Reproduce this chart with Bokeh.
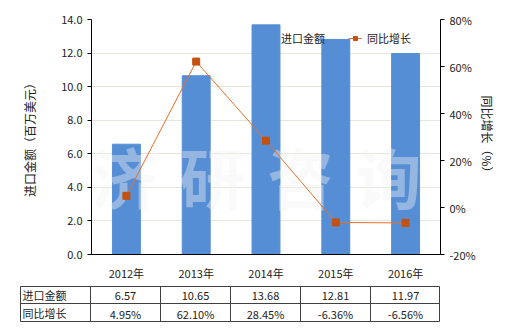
from bokeh.plotting import figure
from bokeh.models import (Range1d, LinearAxis, NumeralTickFormatter, PrintfTickFormatter,
                          FixedTicker, Legend, LegendItem, Label, ColumnDataSource)
from bokeh.core.properties import value
from bokeh.embed import file_html
from bokeh.resources import INLINE

years = ["2012年", "2013年", "2014年", "2015年", "2016年"]
imports = [6.57, 10.65, 13.68, 12.81, 11.97]
growth = [4.95, 62.10, 28.45, -6.36, -6.56]
imports_txt = ["6.57", "10.65", "13.68", "12.81", "11.97"]
growth_txt = ["4.95%", "62.10%", "28.45%", "-6.36%", "-6.56%"]
row_names = ["进口金额", "同比增长"]
watermark = ["济", "研", "咨", "询"]

FONT = "Noto Sans CJK SC"
BAR = "#558ED5"
LINE = "#E8702A"
MARK = "#C4520E"
TXT = "#222222"

src = ColumnDataSource(dict(x=years, imp=imports, gr=growth))

p = figure(x_range=years, y_range=Range1d(0, 14), width=520, height=283,
           output_backend="svg", toolbar_location=None,
           min_border_left=91, min_border_right=80, min_border_top=19, min_border_bottom=21)
p.extra_y_ranges = {"pct": Range1d(-20, 80)}
p.outline_line_color = None
p.background_fill_color = "white"

bars = p.vbar(x="x", top="imp", width=0.4, color=BAR, source=src)

# watermark
for i, ch in enumerate(watermark):
    p.add_layout(Label(x=33 + 88 * i, y=80, x_units="screen", y_units="screen", text=ch,
                       text_font=FONT, text_font_size="66px", text_font_style="bold",
                       text_color="#f2f2f2", text_alpha=0.4, text_align="center",
                       text_baseline="middle"))

ln = p.line(x="x", y="gr", source=src, y_range_name="pct", line_color=LINE, line_width=1,
            level="overlay")
mk = p.scatter(x="x", y="gr", source=src, y_range_name="pct", marker="square", size=7,
               fill_color=MARK, line_color=MARK, level="overlay")

# axes
ax = p.yaxis[0]
ax.ticker = FixedTicker(ticks=[0, 2, 4, 6, 8, 10, 12, 14])
ax.formatter = NumeralTickFormatter(format="0.0")
ax.axis_label = "进口金额（百万美元）"
ax.axis_label_standoff = 20

rax = LinearAxis(y_range_name="pct", ticker=FixedTicker(ticks=[-20, 0, 20, 40, 60, 80]),
                 formatter=PrintfTickFormatter(format="%d%%"))
rax.axis_label = "同比增长（%）"
rax.axis_label_standoff = 0
p.add_layout(rax, "right")

for a in [ax, rax, p.xaxis[0]]:
    a.axis_line_color = "black"
    a.axis_line_width = 1
    a.major_tick_line_color = "black"
    a.major_tick_out = 4
    a.major_tick_in = 0
    a.minor_tick_line_color = None
    a.major_label_text_font = FONT
    a.major_label_text_font_size = "11px"
    a.major_label_text_color = TXT
    a.axis_label_text_font = FONT
    a.axis_label_text_font_size = "12px"
    a.axis_label_text_font_style = "normal"
    a.axis_label_text_color = TXT
p.xaxis[0].major_tick_line_color = None
p.xaxis[0].major_label_standoff = 6

p.xgrid.grid_line_color = None
p.ygrid.grid_line_color = "#e6e6dc"
p.ygrid.ticker = FixedTicker(ticks=[2, 4, 6, 8, 10, 12, 14])

legend = Legend(items=[LegendItem(label="进口金额", renderers=[bars]),
                       LegendItem(label="同比增长", renderers=[ln, mk])],
                orientation="horizontal", location=(171, 208),
                background_fill_alpha=0, border_line_color=None,
                label_text_font=FONT, label_text_font_size="11px", label_text_color=TXT,
                glyph_width=14, glyph_height=10, spacing=23, padding=2, margin=0)
p.add_layout(legend)

# table (separate root so its frame is not aligned to the chart's frame)
t = figure(x_range=Range1d(0, 520), y_range=Range1d(47, 0), width=520, height=47,
           output_backend="svg", toolbar_location=None,
           min_border=0, min_border_left=0, min_border_right=0, min_border_top=0, min_border_bottom=0)
t.axis.visible = False
t.grid.visible = False
t.outline_line_color = None
col_edges = [20, 90, 160, 230, 300, 370, 439]
row_edges = [3, 20, 38]
t.segment(x0=[20] * 3, x1=[439] * 3, y0=row_edges, y1=row_edges, line_color="#404040", line_width=1)
t.segment(x0=col_edges, x1=col_edges, y0=[3] * 7, y1=[38] * 7, line_color="#404040", line_width=1)
centers = [125, 195, 265, 335, 405]
t.text(x=[22, 22], y=[11.5, 29], text=row_names, text_font=value(FONT), text_font_size="11px",
       text_color=TXT, text_baseline="middle", text_align="left")
t.text(x=centers, y=[12] * 5, text=imports_txt, text_font=value(FONT), text_font_size="11px",
       text_color=TXT, text_baseline="middle", text_align="center")
t.text(x=centers, y=[30] * 5, text=growth_txt, text_font=value(FONT), text_font_size="11px",
       text_color=TXT, text_baseline="middle", text_align="center")

open("out.html", "w").write(file_html([p, t], INLINE))
